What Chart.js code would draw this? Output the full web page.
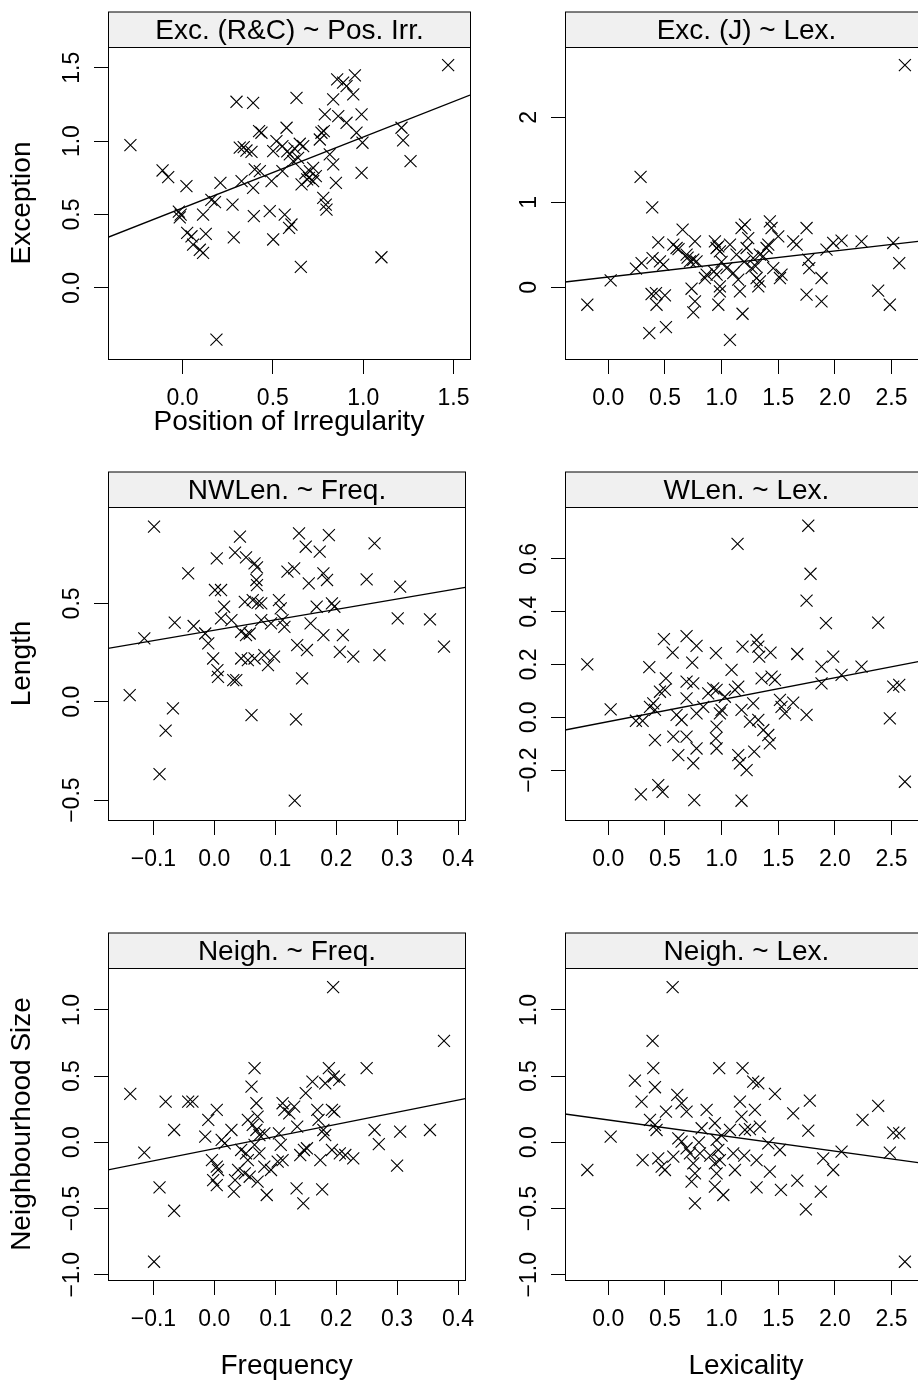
<!DOCTYPE html>
<html>
<head>
<meta charset="utf-8">
<script src="https://cdn.jsdelivr.net/npm/chart.js@4/dist/chart.umd.min.js"></script>
<style>
html,body{margin:0;padding:0;width:918px;height:1384px;overflow:hidden;background:#fff;}
canvas{position:absolute;}
</style>
</head>
<body>
<canvas id="p1"></canvas>
<canvas id="p2"></canvas>
<canvas id="p3"></canvas>
<canvas id="p4"></canvas>
<canvas id="p5"></canvas>
<canvas id="p6"></canvas>
<script>
// ---------- DATA ----------
const stripTitles = ["Exc. (R&C) ~ Pos. Irr.", "Exc. (J) ~ Lex.", "NWLen. ~ Freq.", "WLen. ~ Lex.", "Neigh. ~ Freq.", "Neigh. ~ Lex."];
const yTitles = ["Exception", "Length", "Neighbourhood Size"];
const xTitles = ["Position of Irregularity", "Frequency", "Lexicality"];

// Panel 1: Exception (R&C) vs Position of Irregularity
const excRC_x = [1.47,-0.288,-0.11,-0.079,0.022,-0.02,-0.01,-0.015,0.026,0.05,0.059,0.096,0.114,0.129,0.114,0.16,0.18,0.21,0.188,0.284,0.277,0.299,0.391,0.317,0.339,0.354,0.382,0.327,0.391,0.395,0.40,0.428,0.437,0.424,0.493,0.483,0.502,0.52,0.502,0.553,0.553,0.576,0.566,0.59,0.603,0.594,0.613,0.631,0.649,0.668,0.64,0.655,0.659,0.69,0.705,0.723,0.723,0.738,0.76,0.769,0.782,0.788,0.834,0.779,0.793,0.797,0.834,0.849,0.815,0.856,0.889,0.908,0.954,0.945,0.862,0.908,0.963,0.991,0.996,0.991,1.101,1.212,1.221,1.262,0.58,0.62,0.68,0.70];
const excRC_y = [1.518,0.973,0.80,0.755,0.693,0.52,0.50,0.48,0.375,0.352,0.295,0.26,0.239,0.368,0.50,0.60,0.584,0.716,-0.352,0.345,0.568,1.268,1.261,0.955,0.959,0.936,0.927,0.727,0.682,0.489,0.807,0.795,1.057,1.068,0.727,0.523,0.33,1.0,0.932,0.966,0.795,1.091,0.50,0.409,0.432,0.909,0.864,1.295,0.982,0.966,0.886,0.143,0.705,0.739,0.795,0.818,0.727,0.761,1.011,1.057,1.068,1.182,1.284,0.614,0.568,0.534,0.841,0.716,0.909,1.42,1.398,1.375,1.448,1.318,1.17,1.125,1.057,1.182,0.989,0.784,0.209,1.091,1.005,0.864,0.93,0.95,0.78,0.75];
const excRC_fit = [[-0.412, 0.345], [1.591, 1.314]];

// Panel 2: Exception (J) vs Lexicality
const excJ_x = [2.618,0.285,0.388,-0.185,0.021,0.244,0.294,0.362,0.509,0.382,0.421,0.5,0.426,0.391,0.456,0.485,0.441,0.574,0.603,0.656,0.691,0.721,0.75,0.779,0.765,0.735,0.765,0.75,0.853,0.868,0.941,0.956,0.985,0.971,0.932,0.956,0.971,0.985,0.985,1.044,1.074,1.074,1.103,1.132,1.147,1.162,1.176,1.206,1.185,1.221,1.235,1.265,1.279,1.309,1.324,1.338,1.338,1.368,1.397,1.412,1.426,1.441,1.456,1.5,1.529,1.515,1.632,1.662,1.75,1.765,1.774,1.75,1.882,1.882,1.926,1.985,2.059,2.235,2.382,2.485,2.515,2.568,0.62,0.70,1.0,1.2,1.3];
const excJ_y = [2.612,1.298,0.941,-0.204,0.082,0.22,0.286,-0.537,-0.467,-0.078,-0.067,-0.094,-0.204,0.345,0.306,0.267,0.529,0.502,0.463,0.678,0.384,0.306,0.325,0.306,0.541,-0.016,-0.165,-0.294,0.11,0.149,0.541,0.463,0.424,0.482,0.188,0.149,-0.204,-0.047,0.012,0.227,0.502,-0.616,0.169,0.384,0.09,-0.047,0.698,0.737,-0.31,0.463,0.58,0.227,0.345,0.11,0.012,0.071,0.384,0.365,0.463,0.502,0.776,0.698,0.227,0.6,0.149,0.11,0.541,0.502,0.698,0.325,0.227,-0.086,-0.165,0.11,0.443,0.522,0.549,0.541,-0.039,-0.204,0.522,0.286,0.45,0.35,0.30,0.30,0.25];
const excJ_fit = [[-0.382, 0.063], [2.735, 0.541]];

// Panel 3: Nonword length vs Frequency
const nwlen_x = [-0.099,-0.139,-0.115,-0.068,-0.08,-0.09,-0.065,-0.043,-0.034,-0.015,-0.01,-0.002,0.005,0.006,0.004,0.001,0.011,0.016,0.011,0.031,0.036,0.042,0.034,0.052,0.066,0.07,0.069,0.07,0.061,0.05,0.063,0.071,0.077,0.028,0.044,0.052,0.058,0.044,0.055,0.066,0.077,0.082,0.088,0.098,0.093,0.106,0.109,0.112,0.115,0.12,0.131,0.139,0.15,0.136,0.152,0.144,0.134,0.132,0.155,0.158,0.168,0.173,0.179,0.185,0.188,0.179,0.193,0.197,0.206,0.211,0.228,0.25,0.263,0.271,0.301,0.305,0.354,0.377];
const nwlen_y = [0.89,0.034,0.322,-0.034,-0.147,-0.368,0.402,0.653,0.385,0.347,0.297,0.22,0.161,0.127,0.729,0.568,0.568,0.483,0.424,0.11,0.11,0.839,0.758,0.734,0.703,0.683,0.619,0.593,-0.068,0.508,0.517,0.503,0.5,0.415,0.356,0.339,0.347,0.22,0.212,0.22,0.415,0.237,0.186,0.229,0.398,0.517,0.475,0.415,0.381,0.661,0.678,0.856,0.788,0.288,0.263,0.119,-0.09,-0.503,0.602,0.398,0.483,0.763,0.653,0.619,0.847,0.339,0.5,0.483,0.254,0.339,0.229,0.622,0.805,0.237,0.424,0.585,0.419,0.28];
const nwlen_fit = [[-0.1746, 0.271], [0.412, 0.581]];

// Panel 4: Word length vs Lexicality
const wlen_x = [-0.185,0.021,0.244,0.303,0.362,0.412,0.288,0.441,0.479,0.368,0.397,0.412,0.456,0.5,0.509,0.491,0.568,0.691,0.779,0.741,0.691,0.75,0.691,0.603,0.647,0.574,0.691,0.618,0.75,0.779,0.759,0.779,0.838,0.882,0.926,0.956,0.95,0.956,0.95,0.956,0.985,1.0,1.029,1.088,1.118,1.147,1.176,1.185,1.147,1.162,1.221,1.141,1.176,1.25,1.279,1.324,1.309,1.324,1.332,1.288,1.353,1.368,1.412,1.426,1.432,1.441,1.471,1.515,1.529,1.559,1.632,1.668,1.75,1.75,1.765,1.785,1.882,1.882,1.921,1.985,2.059,2.235,2.382,2.485,2.515,2.568,2.618];
const wlen_y = [0.201,0.03,-0.013,-0.013,0.19,-0.086,-0.292,-0.257,-0.282,0.04,0.053,0.028,0.097,0.104,0.148,0.296,0.245,0.308,0.271,0.207,0.135,0.129,0.072,0.009,-0.01,-0.073,-0.073,-0.143,-0.174,-0.118,-0.314,0.015,0.04,0.091,0.11,0.104,0.243,-0.035,-0.08,-0.118,0.015,0.028,0.078,0.18,0.104,0.116,0.028,0.268,-0.143,-0.174,-0.2,0.657,-0.316,-0.016,0.053,-0.01,0.293,0.268,0.23,-0.13,0.148,-0.048,-0.067,-0.099,0.245,0.154,0.142,0.066,0.04,0.015,0.056,0.24,0.009,0.442,0.726,0.544,0.192,0.129,0.357,0.23,0.161,0.192,0.359,-0.004,0.116,0.123,-0.244];
const wlen_fit = [[-0.382, -0.048], [2.735, 0.211]];

// Panel 5: Neighbourhood size vs Frequency
const neighF_x = [0.195,0.377,-0.138,-0.115,-0.099,-0.09,-0.066,-0.08,-0.066,-0.043,-0.036,-0.01,0.004,-0.015,0.012,0.017,0.028,-0.004,0.004,0.006,-0.002,0.004,0.034,0.032,0.044,0.052,0.055,0.039,0.05,0.058,0.061,0.066,0.069,0.055,0.063,0.069,0.071,0.074,0.066,0.074,0.071,0.082,0.082,0.093,0.086,0.106,0.112,0.115,0.123,0.109,0.104,0.112,0.131,0.136,0.135,0.146,0.141,0.147,0.152,0.15,0.161,0.169,0.171,0.174,0.177,0.182,0.188,0.196,0.205,0.179,0.182,0.193,0.197,0.193,0.206,0.215,0.228,0.25,0.263,0.27,0.3,0.305,0.354];
const neighF_y = [1.172,0.766,0.366,-0.078,-0.902,-0.34,-0.517,0.308,0.093,0.308,0.308,0.169,0.245,0.043,0.018,-0.008,0.093,-0.134,-0.184,-0.209,-0.285,-0.323,-0.285,-0.373,-0.058,-0.083,-0.134,-0.209,-0.234,-0.26,0.421,0.56,0.295,0.169,0.131,0.093,0.194,0.055,-0.02,-0.083,-0.297,0.068,-0.184,-0.209,-0.398,0.068,0.295,0.245,0.219,-0.02,-0.146,-0.134,0.27,0.118,-0.348,-0.461,-0.096,-0.058,-0.045,0.371,0.459,0.245,0.169,-0.134,-0.355,0.446,0.56,0.497,0.471,0.093,0.055,0.245,0.232,-0.058,-0.083,-0.096,-0.121,0.56,0.093,-0.013,-0.176,0.081,0.093];
const neighF_fit = [[-0.1746, -0.209], [0.412, 0.33]];

// Panel 6: Neighbourhood size vs Lexicality
const neighL_x = [0.568,0.391,0.397,0.235,0.412,0.294,-0.185,0.021,0.303,0.368,0.412,0.426,0.441,0.471,0.5,0.509,0.609,0.647,0.691,0.574,0.618,0.647,0.691,0.721,0.75,0.765,0.735,0.765,0.824,0.868,0.809,0.941,0.956,0.971,0.985,0.941,0.956,0.941,1.015,0.979,1.074,1.103,1.118,1.162,1.176,1.185,1.206,1.279,1.324,1.294,1.338,1.309,1.309,1.412,1.426,1.471,1.515,1.524,1.632,1.668,1.744,1.765,1.779,1.876,1.897,1.985,2.059,2.244,2.382,2.485,2.515,2.568,2.618,0.80,1.0,1.25,0.9,1.2];
const neighL_y = [1.172,0.766,0.56,0.466,0.416,0.308,-0.209,0.043,-0.134,0.169,0.131,0.093,-0.121,-0.184,-0.209,0.232,0.358,0.295,0.232,-0.108,0.03,0.005,-0.045,-0.083,-0.159,-0.234,-0.297,-0.461,0.106,0.245,-0.083,0.144,0.018,-0.058,-0.134,-0.159,-0.234,-0.335,-0.398,0.56,0.093,-0.083,-0.209,0.308,0.194,0.56,0.093,0.459,0.446,0.245,0.118,-0.134,-0.34,-0.008,-0.222,0.366,-0.058,-0.36,0.219,-0.29,-0.507,0.088,0.315,-0.373,-0.121,-0.209,-0.071,0.169,0.275,-0.078,0.073,0.068,-0.902,0.0,0.05,0.1,-0.1,-0.1];
const neighL_fit = [[-0.382, 0.214], [2.735, -0.154]];

// Tick values and labels
const posIrrTicks = [0, 0.5, 1, 1.5];
const posIrrLabels = ["0.0", "0.5", "1.0", "1.5"];
const lexTicks = [0, 0.5, 1, 1.5, 2, 2.5];
const lexLabels = ["0.0", "0.5", "1.0", "1.5", "2.0", "2.5"];
const freqTicks = [-0.1, 0, 0.1, 0.2, 0.3, 0.4];
const freqLabels = ["\u22120.1", "0.0", "0.1", "0.2", "0.3", "0.4"];
const excRCTicks = [0, 0.5, 1, 1.5];
const excRCLabels = ["0.0", "0.5", "1.0", "1.5"];
const excJTicks = [0, 1, 2];
const excJLabels = ["0", "1", "2"];
const nwlenTicks = [-0.5, 0, 0.5];
const nwlenLabels = ["\u22120.5", "0.0", "0.5"];
const wlenTicks = [-0.2, 0, 0.2, 0.4, 0.6];
const wlenLabels = ["\u22120.2", "0.0", "0.2", "0.4", "0.6"];
const neighTicks = [-1, -0.5, 0, 0.5, 1];
const neighLabels = ["\u22121.0", "\u22120.5", "0.0", "0.5", "1.0"];

// ---------- STYLE / LAYOUT ----------
const FONT = "'Liberation Sans', Arial, Helvetica, sans-serif";
const TICK_SIZE = 23;
const TITLE_SIZE = 28;
const STRIP_H = 35.5;

const mctx = document.createElement('canvas').getContext('2d');
mctx.font = TICK_SIZE + 'px ' + FONT;
function widest(labels) { return Math.max.apply(null, labels.map(l => mctx.measureText(l).width)); }

const cols = [
  {left: 0, width: 485, yAxisW: 108, padRight: 15},
  {left: 480, width: 460, yAxisW: 85, padRight: 13}
];
const rows = [
  {top: 0, height: 455, padTop: 47, xAxisH: 96, titlePad: 16},
  {top: 460, height: 460, padTop: 47, xAxisH: 100, titlePad: 0},
  {top: 920, height: 464, padTop: 48, xAxisH: 104, titlePad: 0.6}
];

const panels = [
  {id: 'p1', col: 0, row: 0, xs: excRC_x, ys: excRC_y, fit: excRC_fit, xmin: -0.412, xmax: 1.591, ymin: -0.484, ymax: 1.641,
   xt: posIrrTicks, xl: posIrrLabels, yt: excRCTicks, yl: excRCLabels, strip: stripTitles[0], xTitle: xTitles[0], yTitle: yTitles[0]},
  {id: 'p2', col: 1, row: 0, xs: excJ_x, ys: excJ_y, fit: excJ_fit, xmin: -0.382, xmax: 2.813, ymin: -0.842, ymax: 2.826,
   xt: lexTicks, xl: lexLabels, yt: excJTicks, yl: excJLabels, strip: stripTitles[1], xTitle: '', yTitle: ''},
  {id: 'p3', col: 0, row: 1, xs: nwlen_x, ys: nwlen_y, fit: nwlen_fit, xmin: -0.1746, xmax: 0.4119, ymin: -0.601, ymax: 0.99,
   xt: freqTicks, xl: freqLabels, yt: nwlenTicks, yl: nwlenLabels, strip: stripTitles[2], xTitle: '', yTitle: yTitles[1]},
  {id: 'p4', col: 1, row: 1, xs: wlen_x, ys: wlen_y, fit: wlen_fit, xmin: -0.382, xmax: 2.813, ymin: -0.389, ymax: 0.797,
   xt: lexTicks, xl: lexLabels, yt: wlenTicks, yl: wlenLabels, strip: stripTitles[3], xTitle: '', yTitle: ''},
  {id: 'p5', col: 0, row: 2, xs: neighF_x, ys: neighF_y, fit: neighF_fit, xmin: -0.1746, xmax: 0.4119, ymin: -1.04, ymax: 1.3165,
   xt: freqTicks, xl: freqLabels, yt: neighTicks, yl: neighLabels, strip: stripTitles[4], xTitle: xTitles[1], yTitle: yTitles[2]},
  {id: 'p6', col: 1, row: 2, xs: neighL_x, ys: neighL_y, fit: neighL_fit, xmin: -0.382, xmax: 2.813, ymin: -1.04, ymax: 1.3165,
   xt: lexTicks, xl: lexLabels, yt: neighTicks, yl: neighLabels, strip: stripTitles[5], xTitle: xTitles[2], yTitle: ''}
];

const framePlugin = {
  id: 'frame',
  afterDraw(chart, args, opts) {
    const ctx = chart.ctx;
    const a = chart.chartArea;
    const l = Math.round(a.left) + 0.5, r = Math.round(a.right) + 0.5;
    const t = Math.round(a.top) + 0.5, b = Math.round(a.bottom) + 0.5;
    ctx.save();
    ctx.fillStyle = '#f0f0f0';
    ctx.fillRect(l, t - STRIP_H, r - l, STRIP_H);
    ctx.strokeStyle = '#000';
    ctx.lineWidth = 1;
    ctx.strokeRect(l, t - STRIP_H, r - l, STRIP_H);
    ctx.strokeRect(l, t, r - l, b - t);
    ctx.fillStyle = '#000';
    ctx.font = TITLE_SIZE + 'px ' + FONT;
    ctx.textAlign = 'center';
    ctx.textBaseline = 'alphabetic';
    ctx.fillText(opts.title, (l + r) / 2, t - 8.2);
    ctx.restore();
  }
};

panels.forEach(p => {
  const c = cols[p.col], rw = rows[p.row];
  const cv = document.getElementById(p.id);
  cv.width = c.width; cv.height = rw.height;
  cv.style.left = c.left + 'px'; cv.style.top = rw.top + 'px';
  cv.style.width = c.width + 'px'; cv.style.height = rw.height + 'px';
  const pts = p.xs.map((x, i) => ({x: x, y: p.ys[i]}));
  const fitPts = p.fit.map(q => ({x: q[0], y: q[1]}));
  const yPad = 35 - 14 - widest(p.yl) / 2;
  new Chart(cv, {
    type: 'scatter',
    data: {
      datasets: [
        {data: pts, pointStyle: 'crossRot', pointRadius: 8.5, pointHoverRadius: 8.5,
         borderColor: '#000', backgroundColor: '#000', pointBorderWidth: 1.1, borderWidth: 1.1, showLine: false},
        {type: 'line', data: fitPts, borderColor: '#000', borderWidth: 1.3, pointRadius: 0, fill: false, tension: 0}
      ]
    },
    options: {
      responsive: false, animation: false, devicePixelRatio: 1, events: [],
      layout: {padding: {top: rw.padTop, right: c.padRight, left: 0, bottom: 0}},
      plugins: {legend: {display: false}, tooltip: {enabled: false}, title: {display: false}, frame: {title: p.strip}},
      scales: {
        x: {
          type: 'linear', position: 'bottom', min: p.xmin, max: p.xmax, bounds: 'data',
          afterBuildTicks: s => { s.ticks = p.xt.map(v => ({value: v})); },
          afterFit: s => { s.height = rw.xAxisH; },
          ticks: {autoSkip: false, minRotation: 0, maxRotation: 0, padding: 10.7, color: '#000',
                  font: {family: FONT, size: TICK_SIZE}, callback: (v, i) => p.xl[i]},
          grid: {display: true, drawOnChartArea: false, drawTicks: true, tickLength: 15, color: '#000', lineWidth: 1},
          border: {display: false},
          title: {display: !!p.xTitle, text: p.xTitle, color: '#000', font: {family: FONT, size: TITLE_SIZE},
                  padding: {top: 0, bottom: rw.titlePad}}
        },
        y: {
          type: 'linear', position: 'left', min: p.ymin, max: p.ymax, bounds: 'data',
          afterBuildTicks: s => { s.ticks = p.yt.map(v => ({value: v})); },
          afterFit: s => { s.width = c.yAxisW; },
          ticks: {autoSkip: false, minRotation: 90, maxRotation: 90, crossAlign: 'center', padding: yPad, color: '#000',
                  font: {family: FONT, size: TICK_SIZE}, callback: (v, i) => p.yl[i]},
          grid: {display: true, drawOnChartArea: false, drawTicks: true, tickLength: 14, color: '#000', lineWidth: 1},
          border: {display: false},
          title: {display: !!p.yTitle, text: p.yTitle, color: '#000', font: {family: FONT, size: TITLE_SIZE},
                  padding: {top: 5.7, bottom: 0}}
        }
      }
    },
    plugins: [framePlugin]
  });
});
</script>
</body>
</html>
